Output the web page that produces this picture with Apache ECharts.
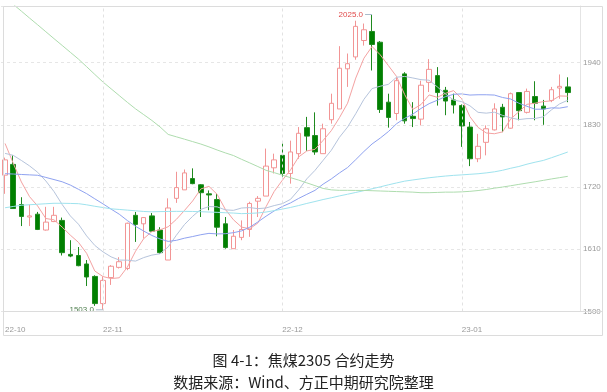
<!DOCTYPE html>
<html><head><meta charset="utf-8">
<script src="https://cdn.jsdelivr.net/npm/echarts/dist/echarts.min.js"></script>
<style>html,body{margin:0;padding:0;background:#fff}#c{width:607px;height:392px}</style>
</head><body><div id="c"></div>
<script>
const dates = ['2022-10-14','2022-10-17','2022-10-18','2022-10-19','2022-10-20','2022-10-21','2022-10-24','2022-10-25','2022-10-26','2022-10-27','2022-10-28','2022-10-31',
'2022-11-01','2022-11-02','2022-11-03','2022-11-04','2022-11-07','2022-11-08','2022-11-09','2022-11-10','2022-11-11','2022-11-14','2022-11-15','2022-11-16','2022-11-17','2022-11-18','2022-11-21','2022-11-22','2022-11-23','2022-11-24','2022-11-25','2022-11-28','2022-11-29','2022-11-30',
'2022-12-01','2022-12-02','2022-12-05','2022-12-06','2022-12-07','2022-12-08','2022-12-09','2022-12-12','2022-12-13','2022-12-14','2022-12-15','2022-12-16','2022-12-19','2022-12-20','2022-12-21','2022-12-22','2022-12-23','2022-12-26','2022-12-27','2022-12-28','2022-12-29','2022-12-30',
'2023-01-03','2023-01-04','2023-01-05','2023-01-06','2023-01-09','2023-01-10','2023-01-11','2023-01-12','2023-01-13','2023-01-16','2023-01-17','2023-01-18','2023-01-19','2023-01-20'];

const open  = [1741,1760,1689,1667,1672,1644,1659,1661,1601,1599, 1584,1562,1514,1560,1578,1576,1670,1655,1669,1644, 1591,1700,1715,1735,1724,1708,1698,1655,1611,1631, 1645,1695,1704,1754,1776,1744,1779,1825,1811,1779, 1839,1858,1929,1950,1979,1995,1976,1870,1850,1920, 1845,1840,1905,1917,1891,1874,1864,1826,1770,1799, 1821,1861,1824,1887,1852,1880,1863,1873,1895,1897];
const close = [1768,1682,1668,1669,1645,1658,1670,1604,1598,1581, 1561,1514,1555,1580,1588,1656,1654,1666,1642,1604, 1683,1719,1745,1726,1710,1706,1649,1613,1633,1645, 1691,1700,1757,1768,1744,1782,1815,1810,1782,1823, 1868,1930,1938,2004,1998,1972,1857,1843,1908,1837, 1841,1900,1928,1887,1872,1865,1828,1770,1792,1823, 1858,1844,1885,1855,1889,1868,1858,1892,1898,1887];
const low   = [1708,1682,1651,1651,1644,1643,1658,1599,1596,1580, 1545,1510,1503,1547,1576,1573,1623,1629,1641,1602, 1591,1692,1715,1725,1667,1679,1633,1611,1611,1626, 1632,1667,1704,1744,1735,1726,1770,1784,1777,1779, 1832,1858,1897,1945,1970,1926,1851,1825,1838,1832, 1826,1829,1888,1864,1847,1850,1791,1757,1764,1776, 1820,1817,1823,1838,1850,1838,1830,1870,1876,1870];
const high  = [1772,1776,1702,1689,1676,1685,1685,1666,1626,1614, 1591,1564,1562,1582,1596,1657,1676,1667,1674,1649, 1700,1747,1751,1753,1725,1714,1708,1667,1644,1661, 1694,1704,1788,1779,1797,1802,1826,1844,1852,1832, 1885,1969,1956,2014,2009,2025,1978,1885,1914,1923, 1870,1908,1946,1932,1897,1885,1866,1835,1814,1829, 1868,1867,1887,1888,1894,1907,1874,1897,1919,1914];

const ma5 = [1797,1762,1729,1703,1686.4,1664.4,1662,1649.2,1635,1622.2, 1602.8,1571.6,1561.8,1558.2,1559.6,1578.6,1606.6,1628.8,1641.2,1644.4, 1649.8,1662.8,1678.6,1695.4,1716.6,1721.2,1707.2,1680.8,1662.2,1649.2, 1646.2,1656.4,1685.2,1712.2,1732,1750.2,1773.2,1783.8,1786.6,1802.4, 1819.6,1842.6,1868.2,1912.6,1947.6,1968.4,1953.8,1934.8,1915.6,1883.4, 1857.2,1865.8,1882.8,1878.6,1885.6,1890.4,1876,1844.4,1825.4,1815.6, 1814.2,1817.4,1840.4,1853,1866.2,1868.2,1871,1872.4,1881,1880.6];
const ma10 = [1779.5,1776,1767,1757.4,1746,1730.7,1712,1689.1,1669,1654.3, 1633.6,1616.8,1605.5,1596.6,1590.9,1590.7,1589.1,1595.3,1599.7,1602, 1614.2,1634.7,1653.7,1668.3,1680.5,1685.5,1685,1679.7,1678.8,1682.9, 1683.7,1681.8,1683,1687.2,1690.6,1698.2,1714.8,1734.5,1749.4,1767.2, 1784.9,1807.9,1826,1849.6,1875,1894,1898.2,1901.5,1914.1,1915.5, 1912.8,1909.8,1908.8,1897.1,1884.5,1873.8,1870.9,1863.6,1852,1850.6, 1852.3,1846.7,1842.4,1839.2,1840.9,1841.2,1844.2,1856.4,1867,1873.4];
const ma20 = [1743.6,1743,1742.2,1741.5,1740.8,1737,1733.2,1729.3,1723.5,1716, 1708.3,1699.2,1690.3,1681,1672,1660.7,1650.6,1642.2,1634.4,1628.2, 1623.9,1625.8,1629.6,1632.5,1635.7,1638.1,1637.1,1637.5,1639.3,1642.5, 1649,1658.3,1668.4,1677.8,1685.6,1691.9,1699.9,1707.1,1714.1,1725.1, 1734.3,1744.9,1754.5,1768.4,1782.8,1796.1,1806.5,1818,1831.8,1841.4, 1848.9,1858.9,1867.4,1873.4,1879.8,1883.9,1884.6,1882.6,1883.1,1883.1, 1882.6,1878.3,1875.6,1868.2,1862.7,1857.5,1857.6,1860,1859.5,1862];
const ma60 = [1683.4,1685.6,1687.8,1688.7,1689.6,1690.5,1691.3,1691.3,1691,1690.6, 1688.6,1686,1683.8,1681.5,1680.4,1679.2,1678,1676.8,1676.2,1676.6, 1676.8,1677,1677,1676.8,1676.4,1675.8,1675.3,1674.6,1674,1673, 1673.4,1674.2,1675.8,1678.3,1681,1683.9,1687.3,1691,1694.4,1697.9, 1701,1704.3,1707.3,1710.4,1713.6,1716.9,1720.3,1723.9,1727.2,1730.4, 1732.5,1734.5,1736.4,1738,1739.4,1740.6,1741.5,1742.5,1743.5,1745, 1746.9,1749.6,1753.2,1756.3,1760.4,1763.9,1767,1771.8,1776.8,1781.9];
const ma120 = [2055,2043,2030.9,2018.7,2006.7,1994.5,1982.3,1970.3,1958.2,1946.1, 1932.7,1919.1,1905.7,1893.7,1881.7,1869.7,1858.2,1848,1837.7,1826.3, 1813,1808.8,1804.6,1800.3,1796,1791,1785.5,1780.4,1775.7,1769, 1762.7,1756.2,1749.6,1745.4,1741,1736.6,1732.3,1727.4,1722.5,1717.5, 1715,1714.2,1714.2,1714,1714,1713.5,1713,1712.5,1712,1711.5, 1711,1710,1710,1710.5,1711,1711,1711.5,1712.4,1713.8,1715.6, 1718,1720,1722.3,1724.7,1727,1729.3,1731.8,1734.3,1736.6,1738.9];

const yTicks = [1500, 1610, 1720, 1830, 1940];
const titleText = '图 4-1：焦煤2305 合约走势';
const sourceText = '数据来源：Wind、方正中期研究院整理';

const isMonthStart = i => i === 0 || (dates[i] !== undefined && dates[i].slice(0, 7) !== dates[i - 1].slice(0, 7));
const monthStarts = dates.map((d, i) => i).filter(isMonthStart);
const kdata = dates.map((d, i) => [open[i], close[i], low[i], high[i]]);

const GL = 1, GR = 27, GT = 6, GB = 80.5;
const W = 607, H = 392;

const chart = echarts.init(document.getElementById('c'), null, {renderer: 'canvas'});
const lineS = (name, data, color) => ({
  type: 'line', name, data, showSymbol: false, symbol: 'none', silent: true,
  lineStyle: {color, width: 1}, itemStyle: {color}, z: 3, animation: false
});
chart.setOption({
  animation: false,
  backgroundColor: '#fff',
  grid: {left: GL, right: GR, top: GT, bottom: GB},
  xAxis: {
    type: 'category', data: dates, boundaryGap: true, max: dates.length,
    axisLine: {show: false}, axisTick: {show: false}, splitLine: {show: false},
    axisLabel: {
      interval: (i) => isMonthStart(i), align: 'left', margin: 14,
      fontSize: 8, color: '#999', fontFamily: 'Liberation Sans, Arial, sans-serif',
      formatter: v => v ? v.slice(2, 7) : ''
    }
  },
  yAxis: {
    type: 'value', position: 'right', min: 1500, max: 2040, interval: 110,
    axisLine: {show: true, lineStyle: {color: '#e4e4e4'}},
    axisTick: {show: false},
    axisLabel: {fontSize: 8, color: '#999', margin: 3, fontFamily: 'Liberation Sans, Arial, sans-serif',
      formatter: v => yTicks.includes(v) ? String(v) : ''},
    splitLine: {lineStyle: {color: '#e6e6e6', type: [3, 3]}}
  },
  series: [
    {
      type: 'candlestick', data: kdata, barWidth: 5, z: 2,
      itemStyle: {color: '#ffffff', color0: '#008000', borderColor: '#f29595', borderColor0: '#1f8a1f', borderWidth: 1},
      markLine: {
        silent: true, symbol: ['none', 'none'], label: {show: false},
        lineStyle: {color: '#e2e2e2', type: [3, 3], width: 1},
        data: monthStarts.filter(i => i > 0).map(i => ({xAxis: dates[i]}))
      },
      markPoint: {
        symbol: 'rect', symbolSize: [7, 1], symbolOffset: [-3.5, 0], silent: true,
        label: {position: 'left', distance: 2, fontSize: 8, fontFamily: 'Liberation Sans, Arial, sans-serif',
          formatter: p => Number(p.value).toFixed(1)},
        data: [
          {type: 'max', valueDim: 'highest', itemStyle: {color: '#a9bccb'}, label: {color: '#e04a4a'}},
          {type: 'min', valueDim: 'lowest', itemStyle: {color: '#a9bccb'}, label: {color: '#4f7f4f'}}
        ]
      }
    },
    lineS('MA5', ma5, '#f4a2a2'),
    lineS('MA10', ma10, '#b6c4dc'),
    lineS('MA20', ma20, '#8fa2f0'),
    lineS('MA60', ma60, '#9fe3ee'),
    lineS('MA120', ma120, '#aedcae')
  ],
  graphic: [
    {type: 'rect', silent: true, shape: {x: 3.5, y: 6.5, width: 599, height: 329}, style: {fill: 'none', stroke: '#dcdcdc', lineWidth: 1}, z: 10},
    {type: 'line', silent: true, shape: {x1: 3.5, y1: H - GB, x2: 603, y2: H - GB}, style: {stroke: '#dcdcdc', lineWidth: 1}, z: 10},
    {type: 'text', silent: true, x: 303.5, y: 360, style: {text: titleText, align: 'center', verticalAlign: 'middle', fontSize: 15, fontFamily: '"Noto Sans CJK SC"', fill: '#222'}},
    {type: 'text', silent: true, x: 303.5, y: 382, style: {text: sourceText, align: 'center', verticalAlign: 'middle', fontSize: 15, fontFamily: '"Noto Sans CJK SC"', fill: '#222'}}
  ]
});
</script>
</body></html>
